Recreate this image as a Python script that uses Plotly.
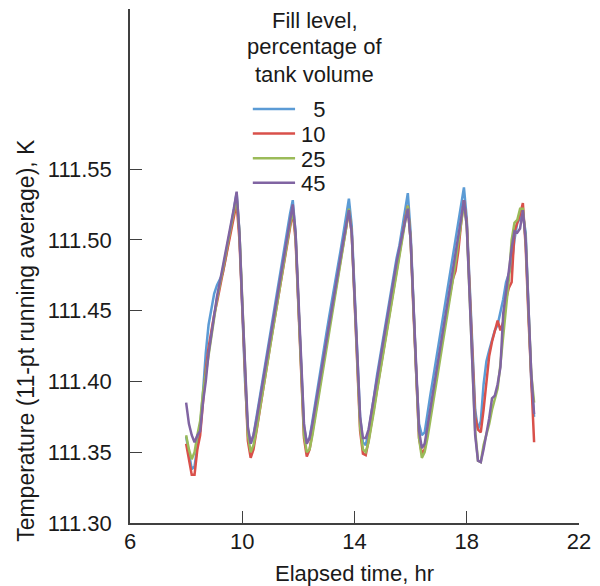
import plotly.graph_objects as go

# ---------------- data ----------------
time_hr = [round(8.0 + 0.1 * i, 1) for i in range(125)]  # 8.0 ... 20.4 hr sample times

fill_5 = [
    111.361, 111.350, 111.338, 111.340, 111.356, 111.368, 111.392, 111.420, 111.440, 111.452,
    111.462, 111.468, 111.472, 111.476, 111.486, 111.498, 111.510, 111.523, 111.533, 111.505,
    111.455, 111.400, 111.366, 111.356, 111.362, 111.374, 111.387, 111.400, 111.412, 111.424,
    111.436, 111.448, 111.460, 111.470, 111.481, 111.494, 111.506, 111.518, 111.528, 111.505,
    111.455, 111.405, 111.368, 111.357, 111.360, 111.372, 111.385, 111.398, 111.411, 111.423,
    111.434, 111.446, 111.457, 111.468, 111.480, 111.492, 111.504, 111.517, 111.529, 111.510,
    111.465, 111.415, 111.375, 111.357, 111.355, 111.364, 111.376, 111.390, 111.404, 111.416,
    111.428, 111.440, 111.450, 111.462, 111.476, 111.487, 111.496, 111.508, 111.522, 111.533,
    111.505, 111.455, 111.405, 111.370, 111.362, 111.364, 111.378, 111.390, 111.402, 111.414,
    111.426, 111.438, 111.450, 111.464, 111.476, 111.488, 111.498, 111.510, 111.522, 111.537,
    111.515, 111.470, 111.420, 111.380, 111.366, 111.372, 111.398, 111.414, 111.422, 111.430,
    111.436, 111.440, 111.448, 111.458, 111.470, 111.476, 111.482, 111.500, 111.512, 111.515,
    111.518, 111.505, 111.450, 111.400, 111.375,
]

fill_10 = [
    111.356, 111.345, 111.334, 111.334, 111.352, 111.362, 111.385, 111.408, 111.424, 111.436,
    111.447, 111.456, 111.466, 111.476, 111.486, 111.495, 111.505, 111.516, 111.526, 111.500,
    111.450, 111.395, 111.358, 111.346, 111.352, 111.364, 111.377, 111.390, 111.402, 111.414,
    111.426, 111.438, 111.450, 111.461, 111.472, 111.484, 111.496, 111.508, 111.520, 111.500,
    111.450, 111.398, 111.360, 111.347, 111.352, 111.364, 111.377, 111.390, 111.403, 111.415,
    111.427, 111.439, 111.450, 111.462, 111.473, 111.485, 111.497, 111.509, 111.520, 111.505,
    111.460, 111.408, 111.365, 111.349, 111.348, 111.358, 111.370, 111.383, 111.396, 111.408,
    111.420, 111.432, 111.444, 111.456, 111.468, 111.480, 111.492, 111.502, 111.514, 111.524,
    111.500, 111.450, 111.398, 111.360, 111.349, 111.352, 111.364, 111.377, 111.390, 111.402,
    111.415, 111.427, 111.439, 111.450, 111.462, 111.472, 111.478, 111.492, 111.512, 111.528,
    111.512, 111.468, 111.415, 111.375, 111.366, 111.364, 111.380, 111.400, 111.418, 111.428,
    111.436, 111.443, 111.436, 111.442, 111.458, 111.466, 111.470, 111.506, 111.512, 111.518,
    111.526, 111.495, 111.445, 111.395, 111.357,
]

fill_25 = [
    111.362, 111.352, 111.345, 111.350, 111.362, 111.372, 111.392, 111.405, 111.418, 111.432,
    111.446, 111.458, 111.468, 111.478, 111.488, 111.498, 111.508, 111.520, 111.530, 111.505,
    111.455, 111.400, 111.362, 111.350, 111.355, 111.365, 111.377, 111.389, 111.401, 111.413,
    111.425, 111.437, 111.449, 111.461, 111.473, 111.485, 111.497, 111.510, 111.522, 111.503,
    111.452, 111.400, 111.362, 111.350, 111.352, 111.362, 111.374, 111.386, 111.398, 111.410,
    111.422, 111.434, 111.446, 111.458, 111.470, 111.482, 111.495, 111.508, 111.522, 111.505,
    111.460, 111.410, 111.368, 111.352, 111.350, 111.357, 111.368, 111.380, 111.393, 111.405,
    111.418, 111.430, 111.442, 111.454, 111.466, 111.478, 111.490, 111.502, 111.514, 111.524,
    111.500, 111.450, 111.398, 111.360, 111.346, 111.350, 111.360, 111.372, 111.385, 111.398,
    111.410, 111.422, 111.435, 111.447, 111.459, 111.471, 111.484, 111.497, 111.510, 111.526,
    111.510, 111.465, 111.410, 111.365, 111.344, 111.343, 111.355, 111.362, 111.370, 111.380,
    111.387, 111.395, 111.412, 111.432, 111.452, 111.472, 111.500, 111.512, 111.514, 111.522,
    111.522, 111.500, 111.450, 111.405, 111.385,
]

fill_45 = [
    111.385, 111.370, 111.362, 111.357, 111.362, 111.365, 111.385, 111.400, 111.420, 111.434,
    111.448, 111.460, 111.470, 111.480, 111.490, 111.500, 111.510, 111.522, 111.534, 111.505,
    111.455, 111.405, 111.368, 111.356, 111.362, 111.372, 111.384, 111.396, 111.408, 111.420,
    111.432, 111.444, 111.456, 111.468, 111.480, 111.491, 111.502, 111.513, 111.525, 111.505,
    111.458, 111.408, 111.370, 111.356, 111.360, 111.370, 111.382, 111.394, 111.406, 111.418,
    111.430, 111.442, 111.454, 111.466, 111.477, 111.488, 111.499, 111.510, 111.521, 111.505,
    111.462, 111.415, 111.375, 111.360, 111.360, 111.366, 111.378, 111.390, 111.402, 111.414,
    111.426, 111.438, 111.450, 111.462, 111.474, 111.484, 111.494, 111.504, 111.514, 111.522,
    111.500, 111.452, 111.402, 111.365, 111.353, 111.356, 111.368, 111.380, 111.393, 111.405,
    111.417, 111.430, 111.442, 111.455, 111.467, 111.479, 111.490, 111.502, 111.515, 111.528,
    111.510, 111.462, 111.405, 111.362, 111.344, 111.343, 111.352, 111.362, 111.374, 111.388,
    111.390, 111.398, 111.410, 111.448, 111.462, 111.478, 111.494, 111.506, 111.505, 111.508,
    111.521, 111.500, 111.452, 111.405, 111.377,
]

series_names = ["\u00a0\u00a05", "10", "25", "45"]
series_values = [fill_5, fill_10, fill_25, fill_45]
series_colors = ["#5B9BD5", "#D9504A", "#9BBB59", "#8064A2"]

x_ticks = [6, 10, 14, 18, 22]
y_ticks = [111.30, 111.35, 111.40, 111.45, 111.50, 111.55]
y_tick_text = ["111.30", "111.35", "111.40", "111.45", "111.50", "111.55"]

legend_title_lines = ["Fill level,", "percentage of", "tank volume"]

FONT = "Liberation Sans, Arial, sans-serif"
AX = "#404040"
TXT = "#1a1a1a"

fig = go.Figure()
for name, vals, col in zip(series_names, series_values, series_colors):
    fig.add_trace(go.Scatter(x=time_hr, y=vals, mode="lines", name=name,
                             line=dict(color=col, width=2.5), showlegend=False))

# plot-area geometry (px) used only to place legend / titles
L, R, T, B = 130, 13, 9, 63
W, H = 600 - L - R, 586 - T - B

def px_x(p):
    return (p - L) / W

def px_y(p):
    return (586 - B - p) / H

annotations = []
for i, line in enumerate(legend_title_lines):
    annotations.append(dict(xref="paper", yref="paper", x=px_x(318), y=px_y(20 + 27 * i),
                            text=line, showarrow=False, xanchor="center", yanchor="middle",
                            font=dict(family=FONT, size=22, color=TXT)))
shapes = []
for i, (name, col) in enumerate(zip(series_names, series_colors)):
    yc = 109 + 24.6 * i
    shapes.append(dict(type="line", xref="paper", yref="paper",
                       x0=px_x(255), x1=px_x(298), y0=px_y(yc), y1=px_y(yc),
                       line=dict(color=col, width=2.5)))
    annotations.append(dict(xref="paper", yref="paper", x=px_x(331), y=px_y(yc + 1),
                            text=name, showarrow=False, xanchor="right", yanchor="middle",
                            font=dict(family=FONT, size=22, color=TXT)))

annotations.append(dict(xref="paper", yref="paper", x=px_x(24), y=px_y(340),
                        text="Temperature (11-pt running average), K", textangle=-90,
                        showarrow=False, xanchor="center", yanchor="middle",
                        font=dict(family=FONT, size=23, color=TXT)))
annotations.append(dict(xref="paper", yref="paper", x=px_x(358), y=px_y(573),
                        text="Elapsed time, hr", showarrow=False,
                        xanchor="center", yanchor="middle",
                        font=dict(family=FONT, size=22, color=TXT)))

fig.update_layout(
    width=600, height=586,
    margin=dict(l=L, r=R, t=T, b=B),
    paper_bgcolor="white", plot_bgcolor="white",
    font=dict(family=FONT, size=22, color=TXT),
    annotations=annotations, shapes=shapes,
    showlegend=False,
)
fig.update_xaxes(range=[6, 22], tickvals=x_ticks, ticks="inside", ticklen=12,
                 tickwidth=1.3, tickcolor=AX, showline=True, linecolor=AX, linewidth=1.5,
                 showgrid=False, zeroline=False, tickfont=dict(size=22),
                 ticklabelstandoff=-2)
fig.update_yaxes(range=[111.30, 111.663], tickvals=y_ticks, ticktext=y_tick_text,
                 ticks="inside", ticklen=12, tickwidth=1.3, tickcolor=AX, showline=True,
                 linecolor=AX, linewidth=1.5, showgrid=False, zeroline=False,
                 tickfont=dict(size=22), ticklabelstandoff=12)

fig.write_html("out.html", config={"displayModeBar": False},
               post_script="document.body.style.margin='0';document.body.style.overflow='hidden';")
